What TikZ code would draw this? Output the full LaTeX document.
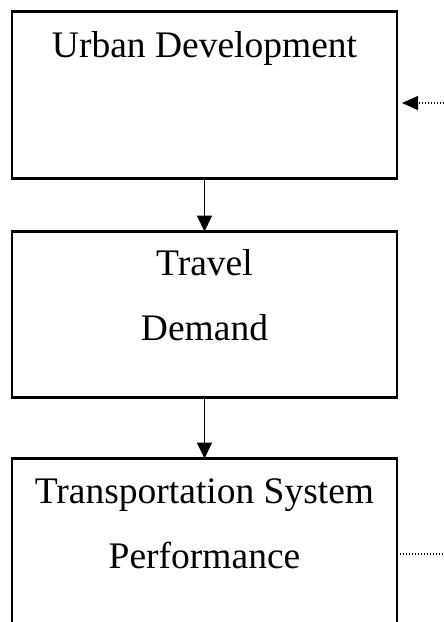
\documentclass[tikz,border=0pt]{standalone}
\usepackage{fontspec}
\setmainfont{Liberation Serif}
\usetikzlibrary{arrows.meta,positioning,calc}

\begin{document}
\begin{tikzpicture}[
    x=1pt, y=-1pt,
    font=\fontsize{37.5}{45}\selectfont,
    box/.style={rectangle, draw, line width=2.8pt, inner sep=0pt, outer sep=0pt, minimum width=385pt},
    caption/.style={anchor=base, inner sep=0pt},
    arrow/.style={-{Triangle[length=16pt, width=15pt]}, line width=1.8pt},
    feedback/.style={line width=1.3pt, dash pattern=on 1.4pt off 1.6pt}
]

    % --- 0. Frame ---
    \clip (0,0) rectangle (444,622);

    % --- 1. Boxes ---
    \node[box, minimum height=167pt] (urban) at (204.5,95) {};
    \node[box, minimum height=166pt, below=53pt of urban] (travel) {};
    \node[box, minimum height=250pt, below=61pt of travel] (perf) {};

    % --- 2. Box Texts ---
    \node[caption] (urbantxt) at ($(urban.north)+(0,45.5)$) {Urban Development};
    \node[caption] (traveltxt) at ($(travel.north)+(0,43.5)$) {Travel};
    \node[caption] (demandtxt) at ($(travel.north)+(0,108.5)$) {Demand};
    \node[caption] (systemtxt) at ($(perf.north)+(0,44.5)$) {Transportation System};
    \node[caption] (perftxt) at ($(perf.north)+(0,109.5)$) {Performance};

    % --- 3. Connections ---
    \draw[arrow] (urban.south) -- (travel.north);
    \draw[arrow] (travel.south) -- (perf.north);

    % Feedback loop ends (dotted)
    \coordinate (loopin) at (444,103);
    \coordinate (loopout) at (444,554);
    \draw[feedback, -{Triangle[length=16pt, width=14pt]}, shorten >=5pt] (loopin) -- (loopin -| urban.east);
    \draw[feedback] (loopout -| perf.east) -- (loopout);

\end{tikzpicture}
\end{document}
